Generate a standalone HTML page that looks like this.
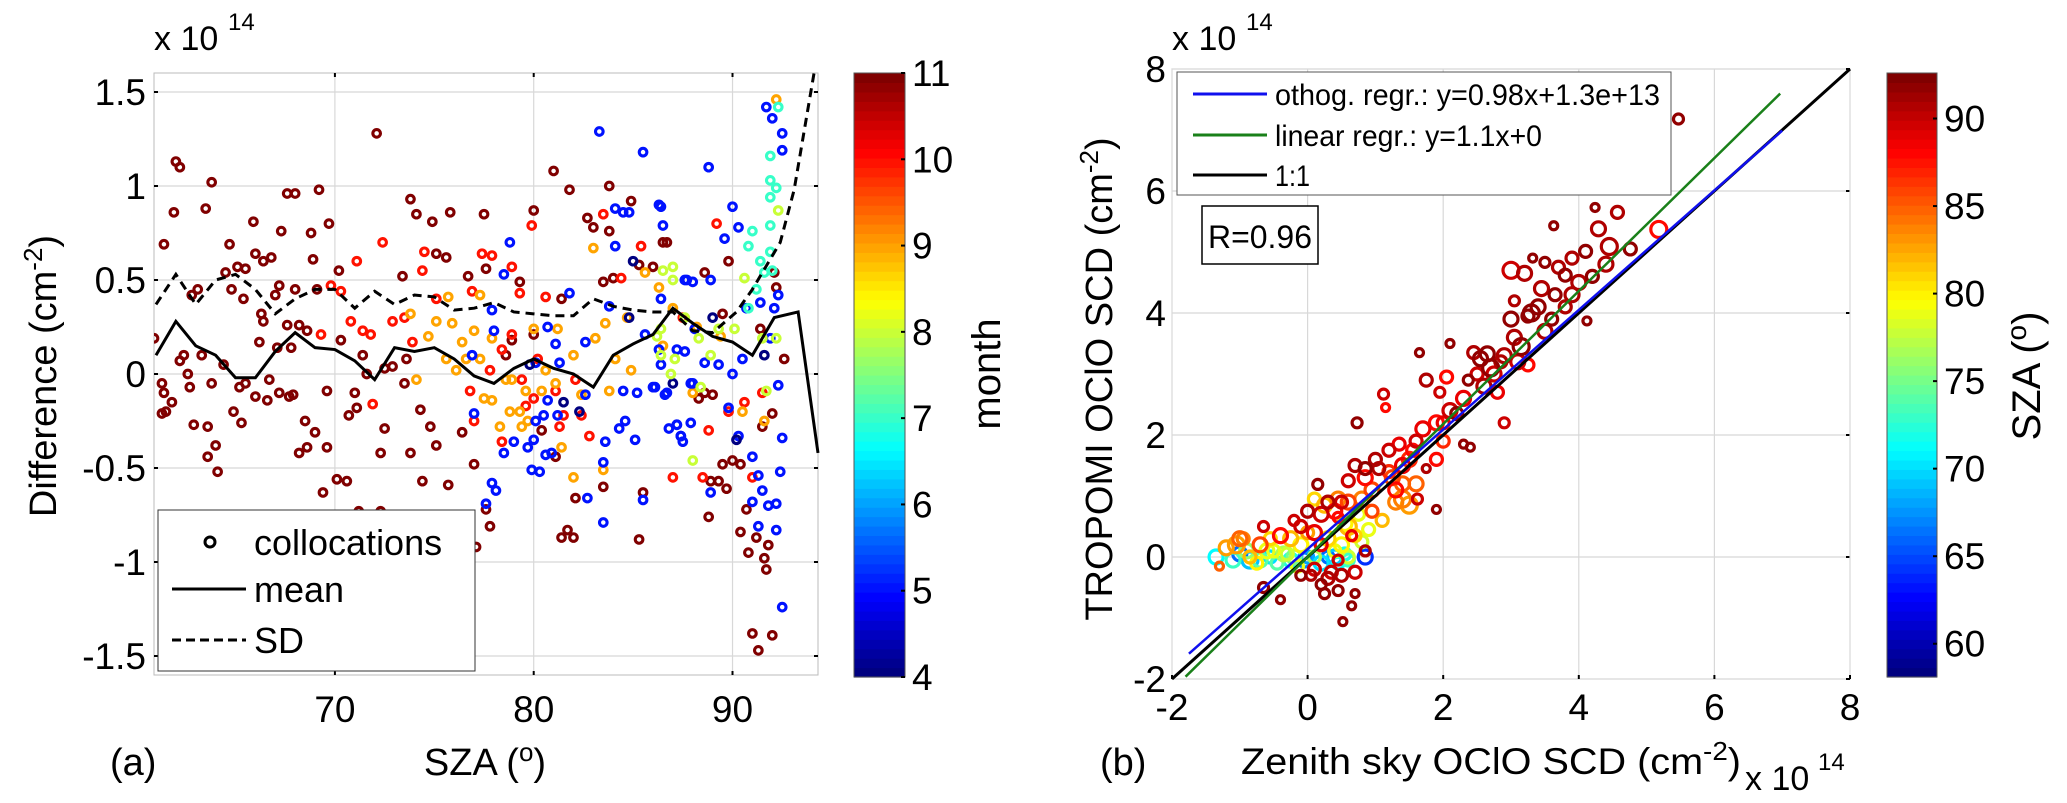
<!DOCTYPE html>
<html><head><meta charset="utf-8"><style>
html,body{margin:0;padding:0;background:#fff;}
svg{display:block;font-family:"Liberation Sans",sans-serif;}
</style></head><body>
<svg id="fig" width="2067" height="803" viewBox="0 0 2067 803" xmlns="http://www.w3.org/2000/svg">
<g id="pa"></g>
<g id="pb"></g>
</svg>
<script>
// ---------- Panel (a) data ----------
const aXTicks=[70,80,90];
const aYTicks=[-1.5,-1,-0.5,0,0.5,1,1.5];
const aYTickLabels=["-1.5","-1","-0.5","0","0.5","1","1.5"];
const cbATicks=[4,5,6,7,8,9,10,11];
const meanSza=[61,62,63,64,65,66,67,68,69,70,71,72,73,74,75,76,77,78,79,80,81,82,83,84,85,86,87,88,89,90,91,92.1,93.3,94.3];
const meanVal=[0.1,0.28,0.15,0.1,-0.02,-0.02,0.12,0.22,0.14,0.13,0.07,-0.03,0.14,0.12,0.14,0.08,-0.01,-0.05,0.03,0.08,0.03,0.0,-0.07,0.1,0.16,0.21,0.35,0.27,0.2,0.17,0.1,0.3,0.33,-0.42];
const sdSza=[61,62,63,64,65,66,67,68,69,70,71,72,73,74,75,76,77,78,79,80,81,82,83,84,85,86,87,88,89,90.2,91,92.4,93.1,94.1];
const sdVal=[0.37,0.53,0.37,0.5,0.53,0.45,0.32,0.4,0.45,0.45,0.35,0.44,0.37,0.42,0.41,0.34,0.35,0.38,0.33,0.32,0.31,0.31,0.4,0.36,0.34,0.33,0.33,0.23,0.22,0.33,0.45,0.7,0.98,1.6];
const m11=[[60.9,0.19],[61.4,0.69],[61.9,0.86],[62.0,1.13],[62.2,1.1],[61.3,-0.05],[61.4,-0.1],[61.3,-0.21],[61.5,-0.2],[61.8,-0.15],[62.2,0.07],[62.4,0.1],[62.6,0],[62.7,-0.07],[62.9,-0.27],[62.8,0.42],[63.1,0.45],[63.3,0.1],[63.5,0.88],[63.6,-0.28],[63.6,-0.44],[63.8,1.02],[64.0,-0.38],[64.1,-0.52],[63.8,-0.05],[64.4,0.05],[64.7,0.69],[64.5,0.54],[64.8,0.45],[64.9,-0.2],[65.3,-0.26],[65.2,-0.07],[65.5,-0.05],[65.4,0.4],[65.1,0.57],[65.5,0.56],[65.9,0.81],[66.0,-0.12],[66.2,0.17],[66.0,0.64],[66.4,0.6],[66.3,0.32],[66.8,0.62],[66.4,0.28],[66.7,-0.03],[66.6,-0.14],[67.0,0.42],[67.2,0.47],[67.1,0.14],[67.3,0.76],[67.2,-0.1],[67.6,0.96],[68.0,0.96],[67.7,-0.12],[67.9,-0.11],[67.6,0.26],[67.8,0.14],[68.0,0.45],[68.2,0.26],[68.2,-0.42],[68.5,-0.25],[68.6,-0.39],[68.6,0.23],[68.8,0.75],[68.9,0.61],[69.0,-0.31],[69.2,0.98],[69.1,0.45],[69.6,-0.09],[69.6,-0.39],[69.7,0.8],[69.4,-0.63],[70.1,-0.56],[70.6,-0.57],[70.2,0.55],[70.3,0.18],[70.7,-0.22],[71.1,-0.18],[71.0,-0.1],[71.2,-0.73],[71.4,0.1],[71.6,0],[72.1,1.28],[72.3,-0.73],[72.3,-0.42],[72.5,-0.29],[72.5,0.03],[72.9,0.04],[73.4,0.52],[73.5,-0.05],[73.6,0.08],[73.8,0.93],[74.1,0.85],[73.8,-0.42],[74.4,-0.57],[74.3,-0.19],[74.9,0.81],[75.1,0.64],[74.8,-0.28],[75.1,-0.38],[75.6,0.62],[75.8,0.86],[75.7,-0.59],[76.7,0.52],[76.4,-0.31],[77.0,-0.48],[77.5,0.85],[77.6,0.56],[77.6,-0.72],[77.8,-0.81],[77.1,-0.92],[78.6,0.1],[78.9,0.18],[79.3,0.49],[80.0,0.87],[80.0,0.21],[80.4,-0.3],[81.0,1.08],[81.1,-0.44],[81.8,0.98],[81.4,0.4],[82.1,-0.66],[81.4,-0.87],[82.0,-0.87],[81.7,-0.83],[82.7,0.83],[83.0,0.78],[83.5,-0.6],[83.8,1.0],[83.8,0.76],[84.0,0.51],[83.5,0.49],[84.9,0.92],[85.3,0.58],[85.5,-0.63],[85.3,-0.88],[86.0,0.57],[86.7,0.7],[86.5,0.7],[88.6,0.54],[88.6,-0.1],[88.3,-0.13],[89.0,-0.11],[89.5,-0.48],[90.0,-0.46],[90.4,-0.48],[88.8,-0.76],[89.7,-0.61],[88.9,-0.57],[89.3,-0.57],[90.4,-0.84],[90.8,-0.95],[90.7,-0.72],[91.2,-0.87],[91.6,-0.98],[91.7,-1.04],[91.8,-0.91],[91.0,-1.38],[91.3,-1.47],[92.0,-1.39],[91.5,-0.28],[92.0,-0.21],[92.6,0.08],[92.2,0.46],[92.1,0.54],[89.8,0.6],[89.5,0.32],[91.4,0.24]];
const m10=[[72.4,0.7],[71.1,0.6],[70.8,0.28],[74.5,0.65],[74.4,0.55],[77.4,0.64],[77.9,0.63],[78.9,0.57],[79.9,0.79],[80.6,0.41],[79.3,0.43],[80.2,0.08],[81.3,-0.28],[83.5,0.85],[84.4,0.51],[85.4,0.68],[82.8,-0.33],[82.1,-0.03],[81.1,-0.09],[73.9,0.17],[73.5,0.3],[72.9,0.28],[71.4,0.23],[71.9,-0.16],[71.8,0.21],[78.4,0.13],[77.8,0.02],[78.9,0.21],[79.4,-0.03],[80.0,-0.13],[78.4,-0.36],[79.6,-0.17],[81.5,-0.22],[82.4,-0.22],[76.8,-0.09],[77.0,-0.25],[69.3,0.21],[69.8,0.47],[70.3,0.44],[75.1,0.4],[76.9,0.44],[87.5,0.3],[88.8,-0.3],[89.8,-0.2],[90.6,-0.15],[91.5,-0.1],[89.2,0.8],[91.0,-0.55],[87.0,-0.55],[88.5,-0.55]];
const m9=[[75.7,0.41],[75.9,0.27],[75.1,0.28],[75.6,0.08],[76.4,0.17],[76.6,0.08],[76.1,0.02],[77.0,0.23],[77.3,0.08],[77.5,-0.13],[77.9,-0.14],[78.3,-0.28],[78.6,-0.03],[78.8,-0.2],[79.3,-0.2],[79.4,-0.28],[79.7,-0.25],[79.6,-0.09],[80.4,-0.09],[80.6,0.02],[81.2,0.24],[81.1,-0.05],[81.4,-0.39],[82.0,-0.55],[82.4,-0.11],[83.0,0.67],[83.6,0.27],[84.1,0.08],[83.5,-0.51],[83.8,-0.09],[84.7,0.3],[84.9,0.02],[85.6,0.54],[86.3,0.46],[83.1,0.19],[82.0,0.1],[80.0,0.24],[78.9,-0.03],[77.9,0.19],[77.3,0.42],[73.8,0.32],[74.7,0.2],[74.1,-0.03],[92.2,1.46],[87.0,0.35],[88.2,0.25],[89.4,0.2],[90.5,-0.2],[91.6,-0.25],[88.0,-0.1],[86.5,0.15]];
const m8=[[86.5,0.55],[86.2,0.2],[86.9,0.0],[86.4,0.1],[87.0,0.57],[87.0,0.5],[86.4,0.24],[87.1,0.08],[88.3,0.19],[88.0,-0.46],[88.4,-0.07],[89.3,0.24],[90.1,0.24],[91.5,0.19],[92.2,0.19],[91.7,-0.09],[87.6,0.3],[88.9,0.1],[90.6,0.51],[92.3,0.87]];
const m7=[[92.3,1.42],[91.9,1.16],[91.9,1.03],[92.2,0.99],[91.9,0.94],[91.9,0.79],[91.0,0.76],[90.8,0.68],[91.9,0.65],[91.6,0.54],[91.2,0.45],[90.8,0.35],[92.0,0.55],[91.4,0.6]];
const m5=[[78.8,0.7],[78.5,0.53],[77.9,0.34],[78.0,0.23],[76.9,0.1],[77.0,-0.21],[78.5,-0.42],[77.9,-0.58],[78.1,-0.62],[77.6,-0.69],[79.0,-0.36],[79.9,-0.51],[80.3,-0.52],[80.0,-0.35],[80.1,-0.25],[79.7,-0.39],[80.5,-0.22],[80.7,-0.14],[80.1,0.06],[80.7,0.25],[81.1,0.16],[81.3,0.06],[80.6,-0.43],[80.9,-0.42],[81.2,-0.22],[81.8,0.43],[82.6,0.17],[82.6,-0.11],[82.7,-0.66],[83.3,1.29],[83.6,-0.36],[83.5,-0.47],[83.5,-0.79],[83.8,0.36],[84.1,0.68],[84.1,0.88],[84.5,0.86],[84.8,0.86],[85.5,1.18],[86.3,0.9],[86.5,0.79],[84.6,-0.25],[85.1,-0.35],[84.3,-0.29],[84.5,-0.09],[85.2,-0.1],[85.5,-0.67],[85.6,0.21],[86.1,-0.07],[86.6,-0.11],[87.2,-0.27],[87.4,-0.33],[87.7,0.5],[87.9,-0.05],[87.2,0.13],[86.3,0.13],[88.8,1.1],[86.4,0.89],[90.0,0.89],[90.3,0.78],[89.6,0.72],[88.9,0.5],[87.6,0.5],[86.4,0.4],[88.0,0.49],[88.1,0.24],[87.6,0.12],[86.4,0.05],[86.0,-0.07],[86.7,-0.1],[88.0,-0.05],[86.8,-0.29],[87.2,-0.27],[87.4,-0.33],[87.5,-0.36],[87.9,-0.26],[88.9,-0.63],[89.8,-0.18],[90.3,-0.33],[91.0,-0.44],[91.3,-0.54],[91.5,-0.62],[91.0,-0.68],[91.3,-0.81],[91.8,-0.7],[92.2,-0.83],[92.2,-0.69],[92.4,-0.52],[92.5,-1.24],[92.5,-0.34],[92.3,-0.06],[91.9,0.19],[92.1,0.35],[92.3,0.42],[92.5,1.19],[92.5,1.28],[91.7,1.42],[92.0,1.36],[91.4,0.38],[90.7,0.35],[90.5,0.08],[90.0,0],[89.3,0.05],[88.6,0.06]];
const m4=[[79.8,0.05],[81.5,-0.15],[82.3,-0.2],[84.8,0.3],[87.0,-0.05],[89.0,0.3],[90.2,-0.35],[91.6,0.1],[85.0,0.6]];
const aGroups=[{m:11,pts:m11},{m:10,pts:m10},{m:9,pts:m9},{m:5,pts:m5},{m:4,pts:m4},{m:8,pts:m8},{m:7,pts:m7}];

// ---------- Panel (b) data ----------
const bTicks=[-2,0,2,4,6,8];
const cbBTicks=[60,65,70,75,80,85,90];
const bx=[5.47,4.24,4.57,3.63,5.18,4.29,4.10,3.9,3.32,3.0,3.2,3.5,3.7,3.8,4.0,4.45,4.76,3.45,3.65,3.4,3.05,3.8,3.0,3.25,3.05,4.12,2.65,2.45,2.55,2.85,2.37,2.75,3.25,1.65,2.1,1.75,1.95,2.05,2.2,2.9,2.4,2.0,1.9,1.75,1.62,1.9,2.3,1.12,1.15,0.73,1.0,1.35,1.55,1.2,1.3,0.7,0.6,0.85,0.5,0.3,0.45,0.15,0.0,-0.2,0.65,0.85,0.2,0.45,0.2,0.7,0.65,0.52,-0.4,-0.65,-0.65,0.05,0.35,1.4,1.3,0.95,1.5,1.1,0.45,0.25,0.1,0.55,0.75,0.9,0.0,-0.25,-0.55,-0.95,-1.05,-0.85,-0.75,-0.5,-0.3,0.1,0.4,0.6,0.7,-0.15,-1.3,-0.9,-1.35,-1.0,-0.85,-0.55,-0.25,0.0,0.2,0.45,0.6,0.85,0.3,-0.45,
3.3,3.5,3.6,3.9,4.2,4.4,3.15,2.9,2.7,2.6,2.5,2.8,3.1,2.3,2.1,1.9,2.0,1.7,1.6,1.5,1.4,1.2,1.05,0.85,0.95,0.8,1.25,1.4,1.6,0.6,0.4,0.2,0.1,-0.1,-0.4,-0.7,-1.0,-1.2,0.3,0.5,0.8,0.6,-0.1,-0.35,-0.6,0.1,0.3,0.5,0.7,-0.1,0.45,0.25,-0.7,-0.2,0.4,0.55,-1.1,-0.05];
const by=[7.18,5.73,5.65,5.43,5.37,5.38,5.01,4.9,4.9,4.7,4.65,4.83,4.75,4.62,4.5,5.09,5.05,4.4,4.3,4.1,4.2,4.1,3.9,3.95,3.6,3.87,3.33,3.35,3.25,3.2,2.9,3.0,3.15,3.35,3.5,2.9,2.7,2.95,2.35,2.2,1.8,2.2,1.6,1.45,0.95,0.78,1.85,2.67,2.45,2.2,1.6,1.85,1.75,1.4,1.1,1.5,1.25,1.45,0.9,0.9,0.65,1.19,0.75,0.6,0.35,0.1,0.2,-0.05,-0.45,-0.6,-0.8,-1.06,-0.7,-0.5,0.5,-0.3,-0.25,1.2,0.9,0.75,0.85,0.6,0.95,0.85,0.95,0.55,0.7,0.45,0.4,0.3,0.3,0.3,0.2,0.0,-0.1,0.1,0.05,0.0,0.1,0.0,0.35,-0.15,-0.15,0.1,0.0,0.05,-0.05,0.0,-0.05,0.0,-0.1,-0.1,-0.05,0.0,0.0,-0.1,
4.0,3.7,3.9,4.3,4.6,4.8,3.45,3.3,3.1,2.8,3.0,2.7,3.2,2.6,2.4,2.2,1.9,2.1,1.9,1.6,1.5,1.75,1.45,1.3,1.1,0.95,1.3,0.95,1.2,0.9,0.75,0.7,0.4,0.5,0.35,0.2,0.3,0.15,0.3,0.2,0.25,0.5,0.2,0.05,0.1,-0.2,-0.35,-0.3,-0.25,-0.3,-0.55,-0.6,-0.05,0.0,0.0,0.05,-0.05,-0.05];
const bSza=[92,92,91,92,88,91,92,91,92,90,91,92,91,92,91,91,92,91,92,92,91,91,92,92,91,92,92,91,92,91,92,90,88,92,92,91,90,88,92,90,92,89,88,91,90,92,92,90,88,92,91,89,88,87,88,91,90,92,90,91,88,92,91,90,89,91,89,90,92,92,92,92,92,92,90,91,90,85,84,86,83,82,84,82,81,80,79,79,83,82,81,84,83,82,80,79,78,77,79,78,81,79,85,76,71,66,69,70,72,68,70,71,73,64,66,74,
92,91,92,91,92,91,92,91,92,91,90,89,90,89,90,88,87,89,90,87,89,90,91,88,86,84,86,84,85,86,88,90,89,90,88,86,85,83,81,80,78,82,80,77,79,90,91,91,90,92,92,92,74,75,69,72,73,67];
const bSize=[5,4,6,4,8,7,6,6,4,8,7,5,6,6,7,8,6,7,6,7,5,6,7,6,7,4,7,6,7,6,5,7,6,4,4,6,5,6,6,5,4,6,6,4,5,4,4,5,4,5,6,6,6,6,7,6,6,6,6,6,5,5,6,5,5,5,6,5,5,4,4,4,4,5,5,5,6,7,7,6,8,6,7,7,6,7,6,6,6,7,6,6,8,6,6,6,6,6,6,6,6,6,4,7,7,7,8,6,7,6,7,6,6,7,6,6,
8,7,6,7,6,7,8,7,8,7,6,6,7,7,7,7,6,7,6,7,7,6,6,7,7,7,7,8,7,7,7,7,7,6,7,7,7,7,7,7,6,8,7,7,7,6,6,6,6,5,5,5,7,7,7,6,7,7];
const orthoX=[-1.75,7], orthoSlope=0.98, orthoInt=0.13;
const linX=[-1.8,6.97], linSlope=1.09, linInt=0;
const oneX=[-2,8];

// ---------- helpers ----------
const NS="http://www.w3.org/2000/svg";
function mk(parent,tag,attrs,text){const e=document.createElementNS(NS,tag);for(const k in attrs)e.setAttribute(k,attrs[k]);if(text!==undefined)e.textContent=text;parent.appendChild(e);return e;}
function jet(t){t=Math.max(0,Math.min(1,t));const r=Math.max(0,Math.min(1,1.5-Math.abs(4*t-3))),g=Math.max(0,Math.min(1,1.5-Math.abs(4*t-2))),b=Math.max(0,Math.min(1,1.5-Math.abs(4*t-1)));return `rgb(${Math.round(r*255)},${Math.round(g*255)},${Math.round(b*255)})`;}

// ---------- Panel (a) ----------
const pa=document.getElementById('pa');
const AL=154,AR=818,AT=73,AB=675;
const ax=v=>AL+(v-60.9)*(AR-AL)/(94.3-60.9);
const ay=v=>374-v*188;
mk(pa,'rect',{x:AL,y:AT,width:AR-AL,height:AB-AT,fill:'#fff',stroke:'#bbb','stroke-width':1});
aXTicks.forEach(t=>{const g=mk(pa,'line',{x1:ax(t),x2:ax(t),y1:AT,y2:AB,stroke:'#d8d8d8','stroke-width':1.2});

const l=mk(pa,'text',{x:ax(t),y:722,'font-size':37,'text-anchor':'middle'},String(t));

mk(pa,'line',{x1:ax(t),x2:ax(t),y1:AT,y2:AT+4,stroke:'#000','stroke-width':2});
mk(pa,'line',{x1:ax(t),x2:ax(t),y1:AB,y2:AB-4,stroke:'#000','stroke-width':2});});
aYTicks.forEach((t,i)=>{const g=mk(pa,'line',{x1:AL,x2:AR,y1:ay(t),y2:ay(t),stroke:'#d8d8d8','stroke-width':1.2});

const l=mk(pa,'text',{x:146,y:ay(t)+13,'font-size':37,'text-anchor':'end'},aYTickLabels[i]);

mk(pa,'line',{x1:AL,x2:AL+4,y1:ay(t),y2:ay(t),stroke:'#000','stroke-width':2});
mk(pa,'line',{x1:AR,x2:AR-4,y1:ay(t),y2:ay(t),stroke:'#000','stroke-width':2});});
const aClip=mk(pa,'clipPath',{id:'clipA'});mk(aClip,'rect',{x:AL,y:AT-10,width:AR-AL+10,height:AB-AT+10});
const aPts=mk(pa,'g',{'clip-path':'url(#clipA)'});

aGroups.forEach(gr=>{gr.pts.forEach(p=>{const c=mk(aPts,'circle',{cx:ax(p[0]),cy:ay(p[1]),r:3.8,fill:'none',stroke:jet((gr.m-4)/7),'stroke-width':3.1});
});});
const mp=mk(pa,'polyline',{points:meanSza.map((s,i)=>ax(s)+','+ay(meanVal[i])).join(' '),fill:'none',stroke:'#000','stroke-width':3});

const sp=mk(pa,'polyline',{points:sdSza.map((s,i)=>ax(s)+','+ay(sdVal[i])).join(' '),fill:'none',stroke:'#000','stroke-width':3,'stroke-dasharray':'9,6'});

const la=mk(pa,'g',{});
mk(la,'rect',{x:158,y:510,width:317,height:161,fill:'#fff',stroke:'#333','stroke-width':1});
mk(la,'circle',{cx:210,cy:542,r:5,fill:'none',stroke:'#000','stroke-width':3});
mk(la,'text',{x:254,y:555,'font-size':36},'collocations');
mk(la,'line',{x1:172,x2:246,y1:589,y2:589,stroke:'#000','stroke-width':3});
mk(la,'text',{x:254,y:602,'font-size':36},'mean');
mk(la,'line',{x1:172,x2:246,y1:640,y2:640,stroke:'#000','stroke-width':3,'stroke-dasharray':'9,5'});
mk(la,'text',{x:254,y:653,'font-size':36},'SD');
let t=mk(pa,'text',{x:154,y:50,'font-size':34},'x 10');
mk(pa,'text',{x:228,y:30,'font-size':24},'14');
t=mk(pa,'text',{x:0,y:0,'font-size':38,'text-anchor':'middle',transform:'translate(56,376) rotate(-90)'});

t.innerHTML='Difference (cm<tspan dy="-14" font-size="26">-2</tspan><tspan dy="14">)</tspan>';
t=mk(pa,'text',{x:485,y:775,'font-size':38,'text-anchor':'middle'});

t.innerHTML='SZA (<tspan dy="-14" font-size="26">o</tspan><tspan dy="14">)</tspan>';
t=mk(pa,'text',{x:110,y:775,'font-size':38},'(a)');
const cbA=mk(pa,'g',{});
const CT=73,CB=677;
for(let i=0;i<64;i++){mk(cbA,'rect',{x:854,y:CB-(i+1)*(CB-CT)/64,width:51,height:(CB-CT)/64+0.6,fill:jet(i/63)});}
mk(cbA,'rect',{x:854,y:CT,width:51,height:CB-CT,fill:'none',stroke:'#555','stroke-width':1});
cbATicks.forEach(v=>{const y=CB-(v-4)*(CB-CT)/7;mk(cbA,'line',{x1:901,x2:905,y1:y,y2:y,stroke:'#000','stroke-width':2});
const l=mk(cbA,'text',{x:912,y:y+13,'font-size':37},String(v));});
t=mk(pa,'text',{x:0,y:0,'font-size':40,'text-anchor':'middle',transform:'translate(1000,374) rotate(-90)'},'month');


// ---------- Panel (b) ----------
const pb=document.getElementById('pb');
const BL=1172,BR=1850,BT=69,BB=679;
const bxs=v=>BL+(v+2)*(BR-BL)/10;
const bys=v=>BB-(v+2)*(BB-BT)/10;
mk(pb,'rect',{x:BL,y:BT,width:BR-BL,height:BB-BT,fill:'#fff',stroke:'#bbb','stroke-width':1});
bTicks.forEach(v=>{
let g=mk(pb,'line',{x1:bxs(v),x2:bxs(v),y1:BT,y2:BB,stroke:'#d8d8d8','stroke-width':1.2});
g=mk(pb,'line',{x1:BL,x2:BR,y1:bys(v),y2:bys(v),stroke:'#d8d8d8','stroke-width':1.2});
mk(pb,'line',{x1:BR,x2:BR-4,y1:bys(v),y2:bys(v),stroke:'#000','stroke-width':2});
mk(pb,'line',{x1:bxs(v),x2:bxs(v),y1:BB,y2:BB-4,stroke:'#000','stroke-width':2});
let l=mk(pb,'text',{x:bxs(v),y:720,'font-size':37,'text-anchor':'middle'},String(v));
l=mk(pb,'text',{x:1166,y:bys(v)+13,'font-size':37,'text-anchor':'end'},String(v));});
const bPts=mk(pb,'g',{});
const ord=bx.map((_,i)=>i).sort((a,b)=>bSza[a]-bSza[b]);
ord.forEach(i=>{const c=mk(bPts,'circle',{cx:bxs(bx[i]),cy:bys(by[i]),r:bSize[i],fill:'none',stroke:jet((bSza[i]-58.1)/(92.6-58.1)),'stroke-width':3.2});
});
let ln=mk(pb,'line',{x1:bxs(oneX[0]),y1:bys(oneX[0]),x2:bxs(oneX[1]),y2:bys(oneX[1]),stroke:'#000','stroke-width':3});
ln=mk(pb,'line',{x1:bxs(linX[0]),y1:bys(linSlope*linX[0]+linInt),x2:bxs(linX[1]),y2:bys(linSlope*linX[1]+linInt),stroke:'#1a801a','stroke-width':2.5});
ln=mk(pb,'line',{x1:bxs(orthoX[0]),y1:bys(orthoSlope*orthoX[0]+orthoInt),x2:bxs(orthoX[1]),y2:bys(orthoSlope*orthoX[1]+orthoInt),stroke:'#1010ee','stroke-width':2.5});
const lb=mk(pb,'g',{});
mk(lb,'rect',{x:1177,y:72,width:494,height:123,fill:'#fff',stroke:'#555','stroke-width':1});
[['#1010ee','othog. regr.: y=0.98x+1.3e+13',94,385],['#1a801a','linear regr.: y=1.1x+0',135,267],['#000','1:1',175,35]].forEach(e=>{
mk(lb,'line',{x1:1193,x2:1267,y1:e[2],y2:e[2],stroke:e[0],'stroke-width':3});
mk(lb,'text',{x:1275,y:e[2]+11,'font-size':30,textLength:e[3],lengthAdjust:'spacingAndGlyphs'},e[1]);});
const rb=mk(pb,'g',{});
mk(rb,'rect',{x:1202,y:206,width:116,height:58,fill:'#fff',stroke:'#000','stroke-width':1.5});
mk(rb,'text',{x:1208,y:248,'font-size':32,textLength:104,lengthAdjust:'spacingAndGlyphs'},'R=0.96');
t=mk(pb,'text',{x:1172,y:50,'font-size':34},'x 10');
mk(pb,'text',{x:1246,y:30,'font-size':24},'14');
t=mk(pb,'text',{x:0,y:0,'font-size':38,'text-anchor':'middle',transform:'translate(1112,379) rotate(-90)'});

t.innerHTML='TROPOMI OClO SCD (cm<tspan dy="-14" font-size="26">-2</tspan><tspan dy="14">)</tspan>';
t=mk(pb,'text',{x:1241,y:774,'font-size':37,textLength:500,lengthAdjust:'spacingAndGlyphs'});

t.innerHTML='Zenith sky OClO SCD (cm<tspan dy="-14" font-size="26">-2</tspan><tspan dy="14">)</tspan>';
mk(pb,'text',{x:1745,y:790,'font-size':34},'x 10');mk(pb,'text',{x:1818,y:770,'font-size':24},'14');
t=mk(pb,'text',{x:1100,y:775,'font-size':38},'(b)');
const cbB=mk(pb,'g',{});
for(let i=0;i<64;i++){mk(cbB,'rect',{x:1887,y:CB-(i+1)*(CB-CT)/64,width:50,height:(CB-CT)/64+0.6,fill:jet(i/63)});}
mk(cbB,'rect',{x:1887,y:CT,width:50,height:CB-CT,fill:'none',stroke:'#555','stroke-width':1});
cbBTicks.forEach(v=>{const y=CB-(v-58.1)*(CB-CT)/(92.6-58.1);mk(cbB,'line',{x1:1933,x2:1937,y1:y,y2:y,stroke:'#000','stroke-width':2});
const l=mk(cbB,'text',{x:1944,y:y+13,'font-size':37},String(v));});
t=mk(pb,'text',{x:0,y:0,'font-size':40,'text-anchor':'middle',transform:'translate(2040,376) rotate(-90)'});

t.innerHTML='SZA (<tspan dy="-14" font-size="28">o</tspan><tspan dy="14">)</tspan>';
</script>
</body></html>
